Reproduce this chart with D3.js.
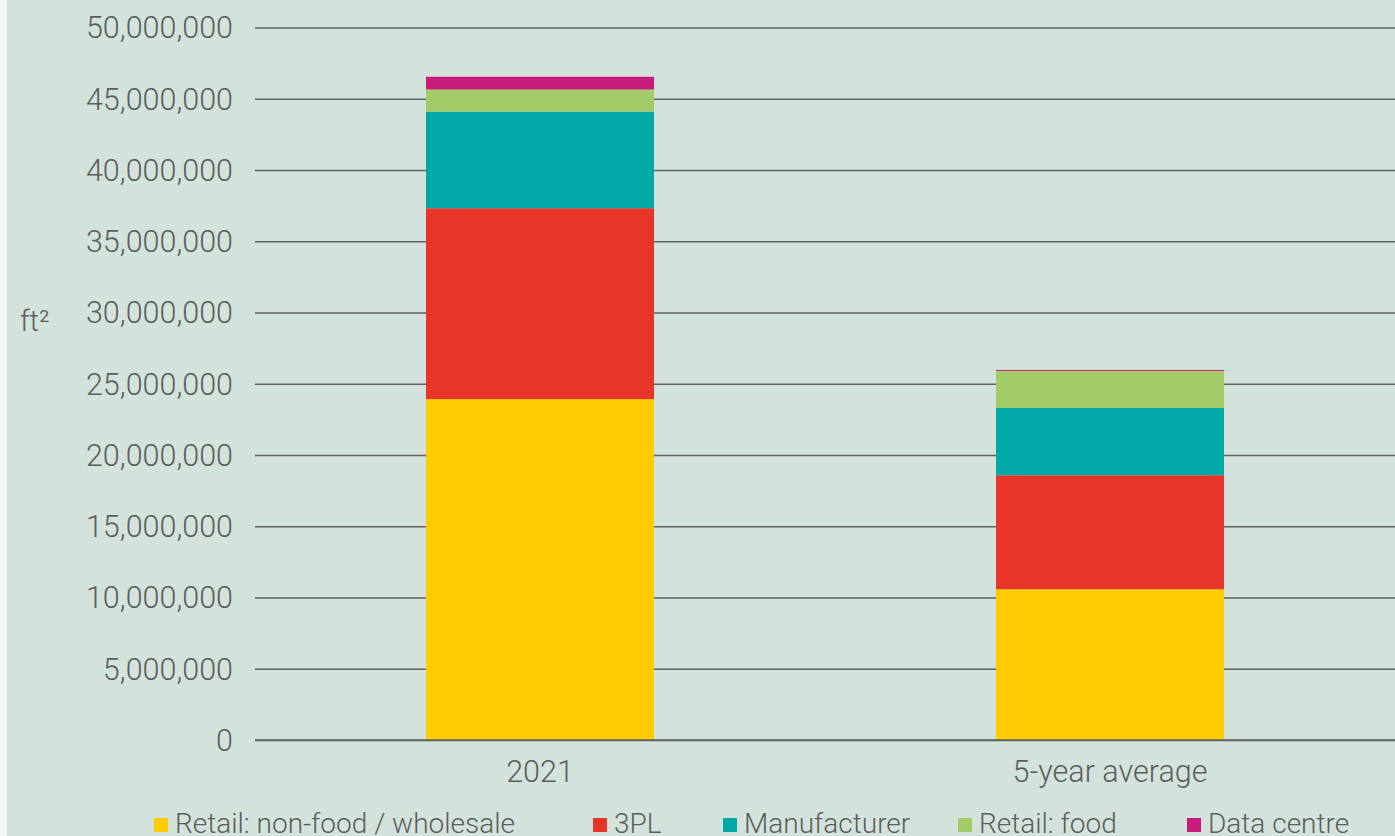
<!DOCTYPE html>
<html>
<head>
<meta charset="utf-8">
<script src="https://cdn.jsdelivr.net/npm/d3@7"></script>
<style>
  html, body { margin: 0; padding: 0; background: #f4f5f1; }
  svg { display: block; }
  text { font-family: Roboto, "Noto Sans", sans-serif; font-weight: 300; fill: #5b5e5c; }
</style>
</head>
<body>
<svg id="chart" width="1395" height="836"></svg>
<script>
// Floorspace take-up by occupier type (ft²)
const categories = ["2021", "5-year average"];
const seriesNames = ["Retail: non-food / wholesale", "3PL", "Manufacturer", "Retail: food", "Data centre"];
const retailNonFood = [23920000, 10580000];
const threePL       = [13400000, 8000000];
const manufacturer  = [6780000, 4720000];
const retailFood    = [1550000, 2600000];
const dataCentre    = [890000, 70000];
const yTicks = [0, 5000000, 10000000, 15000000, 20000000, 25000000, 30000000, 35000000, 40000000, 45000000, 50000000];
const colors = ["#ffcc00", "#e8352a", "#00a9a5", "#a3cb67", "#c81b7c"];

const seriesValues = [retailNonFood, threePL, manufacturer, retailFood, dataCentre];
const rows = categories.map((c, i) => {
  const r = { category: c };
  seriesNames.forEach((s, j) => { r[s] = seriesValues[j][i]; });
  return r;
});

const svg = d3.select("#chart");
const W = 1395, H = 836;

// chart panel background
svg.append("rect").attr("x", 7).attr("y", 0).attr("width", W - 7).attr("height", H).attr("fill", "#d4e2dc");

const x = d3.scaleBand().domain(categories).range([255, 1395]).paddingInner(0.6).paddingOuter(0.3);
const y = d3.scaleLinear().domain([0, 50000000]).range([740, 27.5]);

// gridlines + tick labels
const yAxis = d3.axisLeft(y).tickValues(yTicks).tickSize(-(1395 - 255)).tickPadding(22)
  .tickFormat(d3.format(","));
const gy = svg.append("g").attr("transform", "translate(255,0)").call(yAxis);
gy.select(".domain").remove();
gy.selectAll(".tick line").attr("stroke", "#5f6360").attr("stroke-width", 1.6);
gy.selectAll(".tick text").attr("font-size", 30.5).attr("dy", "0.34em").attr("fill", "#5b5e5c")
  .style("font-family", "Roboto, sans-serif").style("font-weight", 300);

// stacked bars
const stack = d3.stack().keys(seriesNames);
const stacked = stack(rows);
svg.append("g").selectAll("g").data(stacked).join("g")
  .attr("fill", (d, i) => colors[i])
  .selectAll("rect").data(d => d).join("rect")
  .attr("x", d => x(d.data.category))
  .attr("width", x.bandwidth())
  .attr("y", d => y(d[1]))
  .attr("height", d => y(d[0]) - y(d[1]));

// baseline on top of bars
svg.append("line").attr("x1", 255).attr("x2", 1395).attr("y1", y(0)).attr("y2", y(0))
  .attr("stroke", "#5f6360").attr("stroke-width", 1.6);

// category labels
const xAxis = d3.axisBottom(x).tickSize(0).tickPadding(0);
const gx = svg.append("g").attr("transform", "translate(0,782)").call(xAxis);
gx.select(".domain").remove();
gx.selectAll(".tick text").attr("font-size", 30.5).attr("dy", 0).attr("fill", "#5b5e5c")
  .style("font-family", "Roboto, sans-serif").style("font-weight", 300);

// unit label
svg.append("text").attr("x", 20).attr("y", 331).attr("font-size", 29).text("ft²");

// legend
const legendX = [154, 593, 723, 958, 1187];
const legend = svg.append("g").selectAll("g").data(seriesNames).join("g")
  .attr("transform", (d, i) => `translate(${legendX[i]},818)`);
legend.append("rect").attr("width", 14).attr("height", 14).attr("fill", (d, i) => colors[i]);
legend.append("text").attr("x", 21).attr("y", 15).attr("font-size", 28).text(d => d);
</script>
</body>
</html>
